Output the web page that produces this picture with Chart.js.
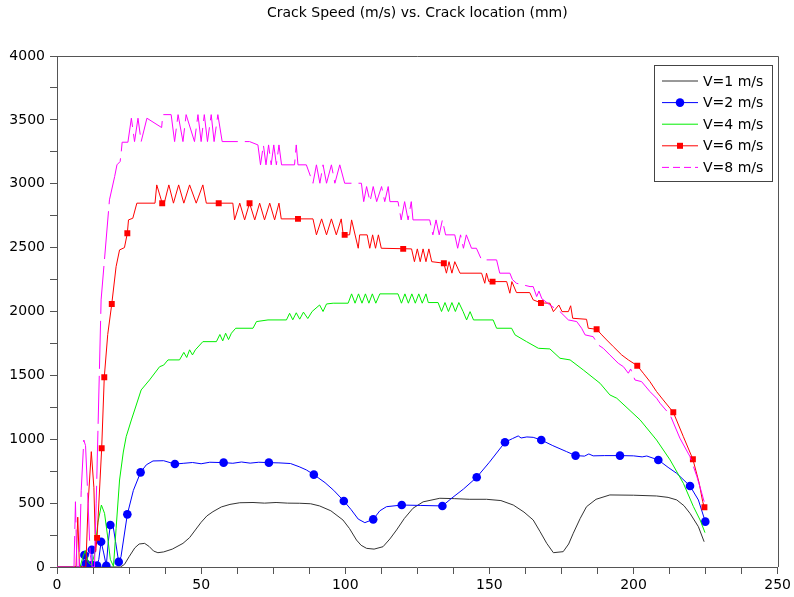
<!DOCTYPE html>
<html><head><meta charset="utf-8">
<script src="https://cdn.jsdelivr.net/npm/chart.js@4.4.1/dist/chart.umd.min.js"></script>
<style>html,body{margin:0;padding:0;background:#fff;}#wrap{width:794px;height:597px;}</style>
</head><body><div id="wrap"><canvas id="c" width="794" height="597"></canvas></div>
<script>
// ---------- DATA (crack location mm, crack speed m/s) ----------
const chartTitle = "Crack Speed (m/s) vs. Crack location (mm)";
const seriesNames = ["V=1 m/s", "V=2 m/s", "V=4 m/s", "V=6 m/s", "V=8 m/s"];

const v1 = [[0,0],[22,0],[23.4,20],[25,80],[27,150],[28.5,180],[30.4,185],[32,160],[33.5,125],[35,112],[37,118],[40,140],[43.7,185],[46,230],[48,290],[50,350],[52,400],[54.1,433],[57,470],[60,490],[63.4,503],[68,505],[72,500],[76,505],[80,500],[84.2,499],[88,495],[91.1,478],[95,440],[99.2,368],[101.5,300],[103.9,211],[105.5,170],[107.4,146],[110,140],[113.1,159],[115.5,220],[117.8,290],[120.5,380],[123.5,460],[127,510],[132.8,538],[138,535],[143,530],[149,530],[154,520],[158.3,485],[162,430],[165.2,368],[167.5,280],[169.9,185],[172.2,112],[175.6,120],[177.5,180],[179.1,264],[181.5,380],[183.7,472],[187,530],[191.8,564],[200,562],[208,556],[212,545],[215,525],[217.5,480],[219.6,420],[222.5,316],[224.5,198]];

const v2 = [[0,0],[8.5,0],[9.5,94],[10.1,25],[11,110],[12.1,135],[12.2,15],[13.9,12],[14.5,60],[15.3,198],[16.2,110],[17.1,10],[17.8,200],[18.5,329],[19.3,345],[20.3,200],[21.4,40],[22.2,80],[24.4,412],[26.5,600],[29,741],[31,800],[33.3,830],[37,832],[40.9,806],[44,812],[47,818],[50,808],[53,820],[57.8,817],[61,812],[64,822],[67,813],[70,820],[73.5,817],[77,815],[81,810],[84,785],[86.5,760],[89.1,723],[93,660],[96,600],[99.5,517],[102,450],[104.5,375],[106.8,347],[109.7,373],[112,440],[114.3,472],[119.6,485],[126,482],[133.7,478],[137,540],[141,610],[145.6,702],[150,820],[155.4,976],[158,1005],[160,1026],[161,1010],[163,1018],[165.2,1015],[168,994],[172,950],[176.8,903],[179.9,872],[183,868],[184.5,885],[186,870],[190,872],[195.3,872],[200,870],[203,862],[204.6,869],[208.6,838],[212,780],[215,733],[219.6,634],[222.5,525],[224.9,355]];
const v2Markers = [[9.5,94],[10.1,25],[12.1,135],[12.2,15],[13.9,12],[15.3,198],[17.1,10],[18.5,329],[21.4,40],[24.4,412],[29,741],[40.9,806],[57.8,817],[73.5,817],[89.1,723],[99.5,517],[109.7,373],[119.6,485],[133.7,478],[145.6,702],[155.4,976],[168,994],[179.9,872],[195.3,872],[208.6,838],[219.6,634],[224.9,355]];

const v4 = [[0,0],[8,0],[9,80],[9.8,130],[10.8,40],[12,10],[13,100],[14.2,350],[15.4,485],[16.5,420],[17.5,250],[18.5,60],[19.6,5],[20.5,300],[21.7,681],[23,900],[24,1020],[25.8,1151],[27.5,1268],[29.2,1386],[32.1,1464],[35.6,1568],[37,1580],[38.5,1621],[42.5,1621],[44,1680],[45,1640],[46,1700],[47,1660],[48,1700],[50.6,1764],[55.3,1764],[56.5,1820],[57.5,1770],[58.5,1830],[59.5,1780],[60.5,1830],[62,1869],[68,1869],[69.2,1921],[73.2,1934],[79.6,1934],[80.7,1986],[81.8,1935],[83,1990],[84.2,1940],[85.5,1995],[87,1945],[88.5,2000],[91.1,2051],[92.3,2000],[93.5,2059],[95.8,2065],[101,2065],[102.2,2138],[103.4,2065],[104.6,2138],[105.8,2065],[107,2138],[108.2,2065],[109.4,2138],[110.6,2065],[112,2138],[118.3,2138],[119.5,2065],[120.7,2138],[121.9,2065],[123.1,2138],[124.3,2065],[125.5,2138],[126.7,2065],[128,2138],[128.8,2070],[132.2,2070],[133.4,2000],[134.6,2070],[135.8,2000],[137,2070],[138.2,2000],[139.4,2070],[140.9,1999],[142.1,1934],[143.3,1999],[144.5,1934],[151.3,1934],[152.5,1869],[157.7,1869],[158.9,1817],[162.9,1764],[167,1712],[171,1707],[174.5,1634],[178,1621],[182.6,1542],[188.4,1438],[191.8,1347],[194.2,1321],[202.3,1151],[208,994],[212.7,838],[217.3,655],[220.8,472],[223.1,368],[224.8,269]];

const v6 = [[0,0],[6.6,0],[7.2,390],[7.8,0],[10,0],[10.8,500],[11.9,903],[12.8,620],[13.4,120],[13.9,228],[15.5,929],[16.4,1485],[17.6,1820],[19,2059],[20.5,2351],[21.7,2482],[23.4,2500],[24.4,2613],[24.8,2717],[26.3,2730],[27.7,2848],[34,2848],[34.6,2991],[36.5,2848],[37.2,2848],[38.8,2991],[40.4,2848],[42.2,2991],[44,2848],[46,2991],[48.3,2848],[50.6,2991],[51.8,2848],[61,2848],[61.6,2717],[63.4,2848],[65.1,2717],[66.8,2848],[68.6,2717],[70.3,2848],[72,2717],[73.8,2848],[75.5,2717],[77,2848],[77.8,2725],[88.8,2725],[90,2600],[91.8,2725],[93.5,2600],[95.2,2725],[96.9,2600],[98.6,2725],[99.3,2600],[101.5,2600],[102.2,2717],[104.5,2495],[105,2600],[107.6,2600],[108.5,2495],[109.5,2600],[110.5,2495],[111.5,2600],[112.5,2495],[123,2490],[124,2390],[125,2490],[126,2390],[127,2490],[128,2390],[129,2490],[130,2390],[134.2,2378],[135.1,2300],[136,2390],[137,2300],[138,2390],[139.8,2300],[147.3,2300],[148.4,2221],[149,2300],[149.8,2234],[156,2234],[157.1,2143],[157.8,2234],[159.4,2148],[164,2148],[165.2,2091],[167.9,2067],[171,2065],[172.2,1999],[174.1,2051],[175.2,1999],[177.4,1999],[178.2,2045],[178.9,1947],[183.7,1939],[184.3,1869],[187.2,1861],[189,1817],[190.7,1777],[193,1725],[195.9,1660],[198.2,1621],[201.3,1576],[203.4,1517],[205.7,1451],[208,1373],[210.3,1308],[213.8,1211],[217.3,1020],[220.6,843],[222.8,655],[224,511],[224.6,467]];
const v6Markers = [[13.9,228],[15.5,929],[16.4,1485],[19,2059],[24.4,2613],[36.5,2848],[56.1,2848],[66.8,2848],[83.6,2725],[99.8,2600],[120.1,2490],[134.2,2378],[151.1,2234],[167.9,2067],[187.2,1861],[201.3,1576],[213.8,1211],[220.6,843],[224.6,467]];

const v8 = [[0,0],[5.9,0],[6.4,511],[6.9,0],[7.7,0],[8.4,600],[9.3,994],[9.9,950],[10.6,600],[11.5,100],[12.2,0],[13,0],[13.6,500],[15.3,2091],[18.2,2874],[20,3056],[20.8,3148],[21.9,3174],[22.3,3252],[22.6,3325],[24.6,3325],[25.8,3513],[26.9,3330],[28.1,3513],[29.2,3330],[31.2,3513],[36.3,3440],[36.7,3541],[39.6,3541],[40.8,3330],[42,3541],[43.7,3330],[44.8,3541],[47.7,3330],[48.9,3541],[50,3330],[51.1,3541],[52.2,3330],[53.5,3541],[54.5,3330],[55.8,3541],[57.3,3330],[66.8,3330],[69.7,3304],[70.6,3148],[71.6,3304],[72.5,3148],[73.4,3304],[74.3,3148],[75.2,3304],[76.1,3148],[77,3304],[77.9,3148],[82.4,3148],[83,3304],[83.6,3148],[86.5,3148],[88.8,3004],[90,3148],[91.2,3004],[92.3,3148],[93.5,3004],[95.2,3148],[96.4,3004],[98.1,3148],[99.8,3004],[105.6,3004],[106.4,2860],[107.4,2978],[108.6,2860],[109.7,2978],[110.9,2860],[112.6,2978],[113.7,2860],[114.9,2978],[115.5,2860],[118.3,2860],[119.4,2717],[120.6,2860],[121.8,2717],[122.9,2860],[123.5,2717],[129.3,2717],[130.4,2600],[131.5,2717],[132.6,2600],[133.7,2717],[134.8,2600],[138,2600],[139,2495],[140,2600],[141,2495],[142,2600],[143.8,2495],[145.5,2495],[147.3,2404],[152.5,2404],[153.6,2300],[157.1,2300],[158,2250],[159.4,2221],[164.1,2195],[165.2,2195],[166.4,2117],[167.2,2160],[168.2,2100],[171,2051],[174.5,1999],[177.4,1934],[180.3,1921],[182,1869],[183.2,1817],[186,1803],[187.8,1738],[189.5,1712],[191.8,1660],[194.7,1595],[196.5,1568],[198.2,1517],[199,1550],[200.5,1464],[202.8,1451],[205.7,1373],[208,1321],[209.2,1282],[212.7,1190],[216.1,1008],[219.6,864],[222,707],[223.7,577],[224.5,511]];

const xRange = [0, 250];
const yRange = [0, 4000];

// ---------- STYLE ----------
const FONT = 'DejaVu Sans';
const AXIS = '#555555';
const colors = ['#333333', '#0000ff', '#00ee00', '#ff0000', '#ff00ff'];

const pts = arr => arr.map(([x, y]) => ({x, y}));

const legendItems = [
  {name: seriesNames[0], color: colors[0], dash: [], marker: null},
  {name: seriesNames[1], color: colors[1], dash: [], marker: 'circle'},
  {name: seriesNames[2], color: colors[2], dash: [], marker: null},
  {name: seriesNames[3], color: colors[3], dash: [], marker: 'rect'},
  {name: seriesNames[4], color: colors[4], dash: [7, 4], marker: null}
];

const decor = {
  id: 'decor',
  afterDraw(chart) {
    const ctx = chart.ctx, a = chart.chartArea;
    ctx.save();
    ctx.strokeStyle = AXIS; ctx.lineWidth = 1;
    ctx.beginPath();
    ctx.moveTo(a.left, Math.round(a.top) + 0.5);
    ctx.lineTo(Math.round(a.right) + 0.5, Math.round(a.top) + 0.5);
    ctx.lineTo(Math.round(a.right) + 0.5, a.bottom);
    ctx.stroke();
    ctx.fillStyle = '#000';
    ctx.font = '14px "' + FONT + '"';
    ctx.textAlign = 'center'; ctx.textBaseline = 'middle';
    ctx.fillText(chartTitle, (a.left + a.right) / 2, 13);
    const bx = 654.5, by = 65.5, bw = 118, bh = 116;
    ctx.fillStyle = '#fff';
    ctx.fillRect(bx, by, bw, bh);
    ctx.strokeStyle = '#444'; ctx.lineWidth = 1;
    ctx.strokeRect(bx, by, bw, bh);
    legendItems.forEach((it, i) => {
      const y = 81 + i * 21.6;
      ctx.strokeStyle = it.color; ctx.lineWidth = 1;
      ctx.setLineDash(it.dash);
      ctx.beginPath(); ctx.moveTo(662, y); ctx.lineTo(698, y); ctx.stroke();
      ctx.setLineDash([]);
      if (it.marker === 'circle') {
        ctx.fillStyle = it.color; ctx.beginPath(); ctx.arc(680, y, 4.3, 0, Math.PI * 2); ctx.fill();
      } else if (it.marker === 'rect') {
        ctx.fillStyle = it.color; ctx.fillRect(677, y - 3, 6, 6);
      }
      ctx.fillStyle = '#000';
      ctx.textAlign = 'left'; ctx.textBaseline = 'middle';
      ctx.fillText(it.name, 703, y + 1);
    });
    ctx.restore();
  }
};

const lineDS = (label, data, color, extra) => Object.assign({
  label, data: pts(data), borderColor: color, backgroundColor: color,
  borderWidth: 1, pointRadius: 0, showLine: true, tension: 0
}, extra || {});

new Chart(document.getElementById('c'), {
  type: 'scatter',
  data: {
    datasets: [
      lineDS(seriesNames[4], v8, colors[4], {borderDash: [48, 7], order: 1}),
      lineDS(seriesNames[3] + ' markers', v6Markers, colors[3], {showLine: false, pointRadius: 4.2, pointStyle: 'rect', borderWidth: 0, order: 2}),
      lineDS(seriesNames[3], v6, colors[3], {order: 3}),
      lineDS(seriesNames[2], v4, colors[2], {order: 4}),
      lineDS(seriesNames[1] + ' markers', v2Markers, colors[1], {showLine: false, pointRadius: 4.3, pointStyle: 'circle', borderWidth: 0, order: 5}),
      lineDS(seriesNames[1], v2, colors[1], {order: 6}),
      lineDS(seriesNames[0], v1, colors[0], {order: 7})
    ]
  },
  options: {
    responsive: false,
    animation: false,
    devicePixelRatio: 1,
    layout: {padding: {top: 56, right: 16, left: 0, bottom: 0}},
    plugins: {legend: {display: false}, tooltip: {enabled: false}, title: {display: false}},
    scales: {
      x: {
        type: 'linear', position: 'bottom', min: xRange[0], max: xRange[1],
        ticks: {stepSize: 12.5, autoSkip: false, maxRotation: 0, color: '#000', padding: 3,
                font: {family: FONT, size: 14},
                callback: v => (v % 50 === 0 ? String(v) : '')},
        grid: {display: true, drawOnChartArea: false, drawTicks: true, tickLength: 7, color: AXIS},
        border: {display: true, color: AXIS, width: 1},
        afterFit: s => { s.height = 30; }
      },
      y: {
        type: 'linear', position: 'left', min: yRange[0], max: yRange[1],
        ticks: {stepSize: 250, autoSkip: false, color: '#000', padding: 5,
                font: {family: FONT, size: 14},
                callback: v => (v % 500 === 0 ? String(v) : '')},
        grid: {display: true, drawOnChartArea: false, drawTicks: true, tickLength: 7, color: AXIS},
        border: {display: true, color: AXIS, width: 1},
        afterFit: s => { s.width = 57; }
      }
    }
  },
  plugins: [decor]
});
</script></body></html>
